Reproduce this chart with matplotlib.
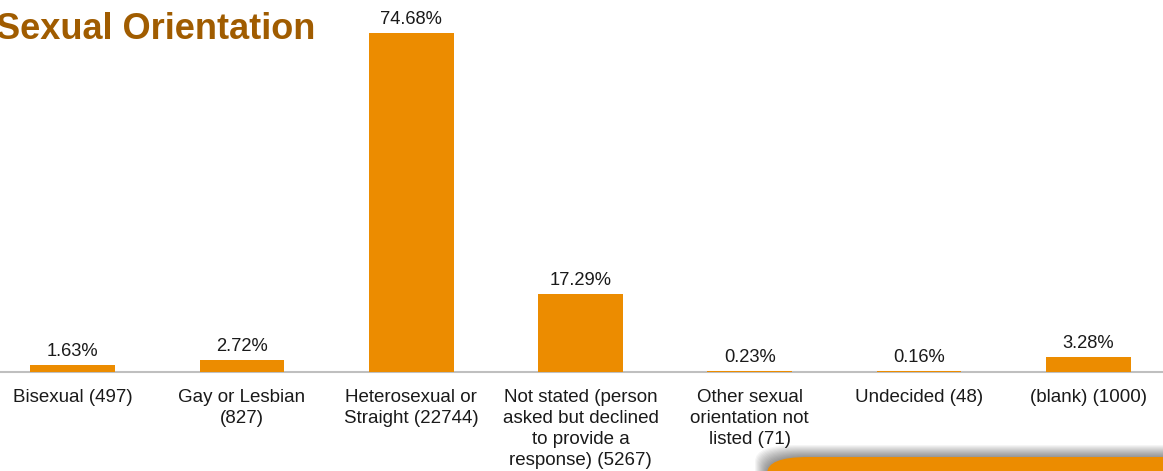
import matplotlib.pyplot as plt
from matplotlib.patches import FancyBboxPatch

plt.rcParams['font.family'] = ['Liberation Sans', 'DejaVu Sans']

categories = ['Bisexual (497)', 'Gay or Lesbian\n(827)', 'Heterosexual or\nStraight (22744)',
              'Not stated (person\nasked but declined\nto provide a\nresponse) (5267)',
              'Other sexual\norientation not\nlisted (71)', 'Undecided (48)', '(blank) (1000)']
percents = [1.63, 2.72, 74.68, 17.29, 0.23, 0.16, 3.28]

W, H = 1163, 471
fig = plt.figure(figsize=(W / 100, H / 100), dpi=100)

# axes sized in pixels so the bars line up with the slide layout
ax = fig.add_axes([-12 / W, 99 / H, 1185 / W, 363 / H])
x = range(len(categories))
bars = ax.bar(x, percents, width=0.5, color='#ec8c00', zorder=3)
ax.set_xlim(-0.5, len(categories) - 0.5)
ax.set_ylim(0, 80)

for b, p in zip(bars, percents):
    ax.annotate(f'{p:.2f}%', (b.get_x() + b.get_width() / 2, b.get_height()),
                xytext=(0, 5), textcoords='offset pixels', ha='center', va='bottom',
                fontsize=13.2, color='#1a1a1a')

ax.set_xticks(list(x))
ax.set_xticklabels(categories, fontsize=13.5, color='#1a1a1a', linespacing=1.32, va='top')
ax.tick_params(axis='x', length=0, pad=12)
ax.set_yticks([])
for s in ['top', 'right', 'left']:
    ax.spines[s].set_visible(False)
ax.spines['bottom'].set_color('#bfbfbf')
ax.spines['bottom'].set_linewidth(1.5)
ax.set_facecolor('none')

fig.text(315 / W, 1 - 39 / H, 'Sexual Orientation', ha='right', va='baseline',
         fontsize=26, fontweight='bold', color='#a05c00')

# orange panel in the lower right corner, with a soft shadow
left, top = 767, 457
for off in range(12, 0, -1):
    sh = FancyBboxPatch(((left - off) / W, -60 / H), 520 / W, (60 + H - top + off) / H,
                        boxstyle='round,pad=0,rounding_size=0.035', transform=fig.transFigure,
                        facecolor='#000000', edgecolor='none', alpha=0.04, zorder=0)
    fig.patches.append(sh)
panel = FancyBboxPatch((left / W, -60 / H), 520 / W, (60 + H - top) / H,
                       boxstyle='round,pad=0,rounding_size=0.035', transform=fig.transFigure,
                       facecolor='#ec8c00', edgecolor='none', zorder=1)
fig.patches.append(panel)

fig.savefig('out.png', dpi=100)
